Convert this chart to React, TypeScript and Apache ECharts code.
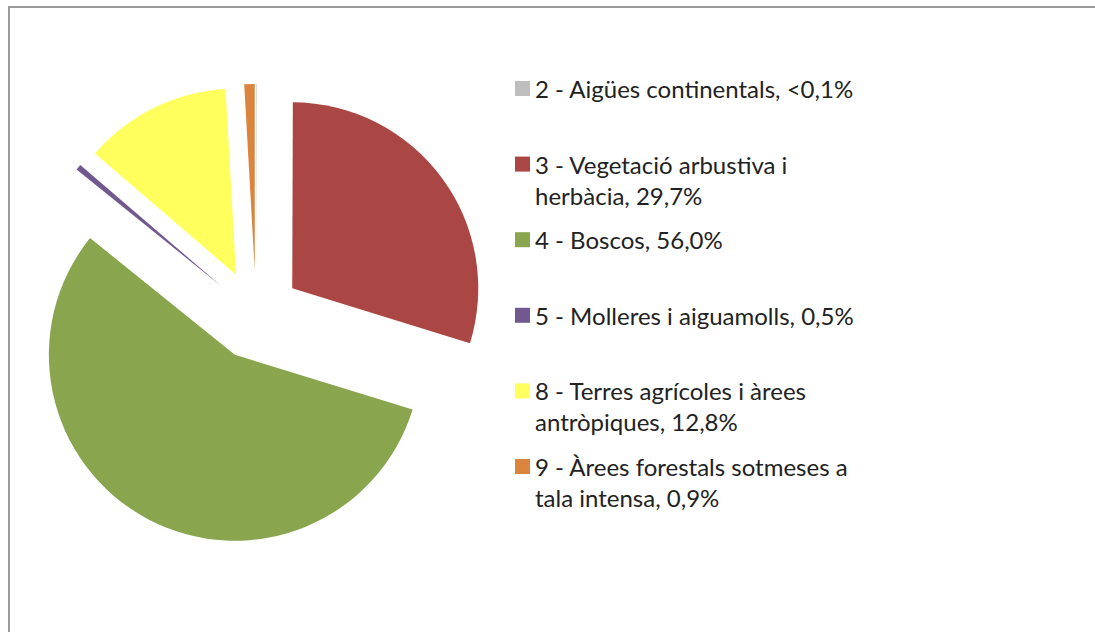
import React, { useEffect, useRef } from "react";
import * as echarts from "echarts";

const categories: string[] = [
  "2 - Aigües continentals, <0,1%",
  "3 - Vegetació arbustiva i herbàcia, 29,7%",
  "4 - Boscos, 56,0%",
  "5 - Molleres i aiguamolls, 0,5%",
  "8 - Terres agrícoles i àrees antròpiques, 12,8%",
  "9 - Àrees forestals sotmeses a tala intensa, 0,9%",
];
const values: number[] = [0.05, 29.7, 56.0, 0.5, 12.8, 0.9];
const colors: string[] = ["#BEBEBE", "#AA4643", "#89A54E", "#71588F", "#FFFF5E", "#DB843D"];
const legendLines: string[][] = [
  ["2 - Aigües continentals, <0,1%"],
  ["3 - Vegetació arbustiva i", "herbàcia, 29,7%"],
  ["4 - Boscos, 56,0%"],
  ["5 - Molleres i aiguamolls, 0,5%"],
  ["8 - Terres agrícoles i àrees", "antròpiques, 12,8%"],
  ["9 - Àrees forestals sotmeses a", "tala intensa, 0,9%"],
];

export default function App() {
  const ref = useRef<HTMLDivElement>(null);
  useEffect(() => {
    if (!ref.current) return;
    const chart = echarts.init(ref.current, null, { renderer: "svg" });
    const data = categories.map((name, i) => ({
      name,
      value: values[i],
      selected: true,
      itemStyle: { color: colors[i], borderWidth: 0 },
      select: { itemStyle: { color: colors[i], borderWidth: 0 } },
    }));
    chart.setOption({
      animation: false,
      backgroundColor: "#ffffff",
      graphic: [
        {
          type: "line",
          shape: { x1: 8, y1: 7, x2: 1095, y2: 7 },
          style: { stroke: "#9a9a9a", lineWidth: 2 },
          silent: true,
        },
        {
          type: "line",
          shape: { x1: 9, y1: 6, x2: 9, y2: 632 },
          style: { stroke: "#9a9a9a", lineWidth: 2 },
          silent: true,
        },
      ],
      legend: {
        orient: "vertical",
        left: 515,
        top: 42,
        padding: 0,
        itemWidth: 15,
        itemHeight: 15,
        itemGap: -17.4,
        icon: "rect",
        selectedMode: false,
        data: categories,
        textStyle: {
          fontFamily: "Lato",
          fontSize: 24,
          lineHeight: 31,
          color: "#222222",
        },
        formatter: (name: string) => {
          const idx = categories.indexOf(name);
          const lines = legendLines[idx] || [name];
          return "\n" + lines[0] + "\n" + (lines[1] || "");
        },
      },
      series: [
        {
          type: "pie",
          center: [256, 315],
          radius: 186,
          startAngle: 90,
          clockwise: true,
          selectedMode: "multiple",
          selectedOffset: 45,
          avoidLabelOverlap: false,
          label: { show: false },
          labelLine: { show: false },
          emphasis: { disabled: true },
          silent: true,
          data,
        },
      ],
    });
    return () => chart.dispose();
  }, []);
  return (
    <div
      ref={ref}
      style={{ position: "absolute", left: 0, top: 0, width: 1095, height: 632 }}
    />
  );
}
